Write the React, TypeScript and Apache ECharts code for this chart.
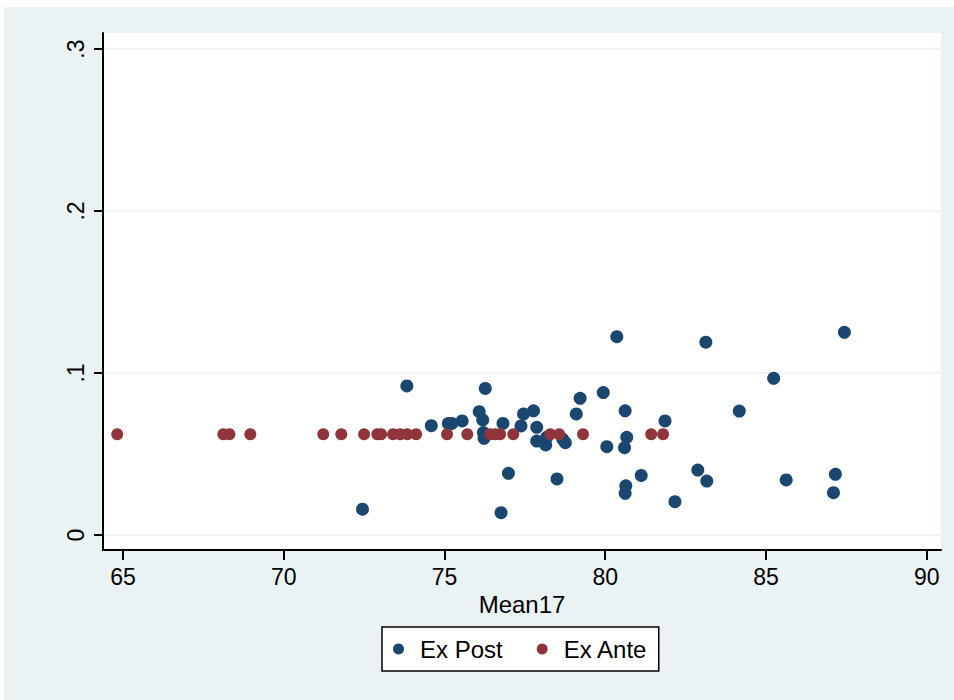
import React, { useEffect, useRef } from "react";
import * as echarts from "echarts";

const FONT = "'Liberation Sans', Arial, sans-serif";

const seriesNames = ["Ex Post", "Ex Ante"];
const xTicks = [65, 70, 75, 80, 85, 90];
const yTicks = [0, 0.1, 0.2, 0.3];

const exPost: [number, number][] = [
  [80.36, 0.1224],
  [73.83, 0.092],
  [76.27, 0.0905],
  [79.22, 0.0844],
  [79.94, 0.0879],
  [80.62, 0.0767],
  [81.86, 0.0704],
  [76.08, 0.0761],
  [76.19, 0.071],
  [77.46, 0.0747],
  [77.77, 0.0767],
  [79.1, 0.0747],
  [75.55, 0.0704],
  [75.12, 0.0689],
  [75.23, 0.0689],
  [74.59, 0.0675],
  [76.82, 0.0689],
  [77.38, 0.0673],
  [77.87, 0.0665],
  [76.21, 0.0632],
  [76.23, 0.0597],
  [77.87, 0.058],
  [78.18, 0.0603],
  [78.15, 0.0556],
  [78.68, 0.0591],
  [78.76, 0.057],
  [80.05, 0.0545],
  [80.67, 0.0603],
  [80.6, 0.0539],
  [76.99, 0.0381],
  [78.5, 0.0346],
  [81.12, 0.0368],
  [80.64, 0.0304],
  [80.62, 0.0257],
  [82.17, 0.0206],
  [76.76, 0.0138],
  [72.45, 0.0159],
  [83.13, 0.119],
  [87.44, 0.1251],
  [85.24, 0.0967],
  [84.17, 0.0765],
  [82.88, 0.0401],
  [83.16, 0.0333],
  [85.63, 0.034],
  [87.16, 0.0375],
  [87.1, 0.0261],
];

const exAnte: [number, number][] = [
  [64.82, 0.0622],
  [68.12, 0.0622],
  [68.31, 0.0622],
  [68.96, 0.0622],
  [71.23, 0.0622],
  [71.79, 0.0622],
  [72.5, 0.0622],
  [72.91, 0.0622],
  [73.03, 0.0622],
  [73.4, 0.0622],
  [73.62, 0.0622],
  [73.84, 0.0622],
  [74.12, 0.0622],
  [75.08, 0.0622],
  [75.71, 0.0622],
  [76.42, 0.0622],
  [76.58, 0.0622],
  [76.73, 0.0622],
  [77.14, 0.0622],
  [78.29, 0.0622],
  [78.57, 0.0622],
  [79.31, 0.0622],
  [81.43, 0.0622],
  [81.8, 0.0622],
];

export default function App() {
  const ref = useRef<HTMLDivElement>(null);
  useEffect(() => {
    if (!ref.current) return;
    const chart = echarts.init(ref.current, undefined, { renderer: "svg" });
    const axisLineStyle = { color: "#000", width: 2 };
    chart.setOption({
      animation: false,
      backgroundColor: "#EAF2F3",
      textStyle: { fontFamily: FONT },
      graphic: [
        { type: "rect", left: 0, top: 0, shape: { x: 0, y: 0, width: 4, height: 700 }, style: { fill: "#fff" }, silent: true },
        { type: "rect", left: 0, top: 0, shape: { x: 0, y: 0, width: 954, height: 7 }, style: { fill: "#fff" }, silent: true },
      ],
      grid: {
        left: 103,
        right: 13,
        top: 33,
        bottom: 150,
        show: true,
        backgroundColor: "#fff",
        borderWidth: 0,
      },
      xAxis: {
        type: "value",
        min: 64.378,
        max: 90.445,
        name: "Mean17",
        nameLocation: "middle",
        nameGap: 39,
        nameTextStyle: { fontSize: 24, color: "#000", fontFamily: FONT },
        axisLine: { show: true, onZero: false, lineStyle: axisLineStyle },
        axisTick: { show: true, length: 10, lineStyle: axisLineStyle, customValues: xTicks },
        axisLabel: {
          customValues: xTicks,
          fontSize: 23,
          color: "#000",
          fontFamily: FONT,
          margin: 15,
          formatter: (v: number) => String(v),
        },
        splitLine: { show: false },
      },
      yAxis: {
        type: "value",
        min: -0.00926,
        max: 0.3099,
        axisLine: { show: true, onZero: false, lineStyle: axisLineStyle },
        axisTick: { show: true, length: 9, lineStyle: axisLineStyle, customValues: yTicks },
        axisLabel: {
          customValues: yTicks,
          rotate: 90,
          fontSize: 23,
          color: "#000",
          fontFamily: FONT,
          margin: 16,
          formatter: (v: number) => (v === 0 ? "0" : v.toFixed(1).replace(/^0/, "")),
        },
        splitLine: { show: true, lineStyle: { color: "#EAF2F3", width: 1.5 } },
      },
      legend: {
        data: seriesNames,
        icon: "circle",
        itemWidth: 11,
        itemHeight: 11,
        itemGap: 34,
        left: 382,
        top: 627,
        padding: [10, 11, 10, 11],
        borderColor: "#000",
        borderWidth: 1.5,
        backgroundColor: "#fff",
        textStyle: { fontSize: 24, color: "#000", fontFamily: FONT, padding: [0, 0, 0, 11] },
      },
      series: [
        {
          name: seriesNames[0],
          type: "scatter",
          data: exPost,
          symbol: "circle",
          symbolSize: 13,
          itemStyle: { color: "#1A476F", opacity: 1 },
        },
        {
          name: seriesNames[1],
          type: "scatter",
          data: exAnte,
          symbol: "circle",
          symbolSize: 12,
          itemStyle: { color: "#90353B", opacity: 1 },
        },
      ],
    });
    return () => chart.dispose();
  }, []);
  return (
    <div
      ref={ref}
      style={{ width: 954, height: 700, position: "absolute", left: 0, top: 0 }}
    />
  );
}
